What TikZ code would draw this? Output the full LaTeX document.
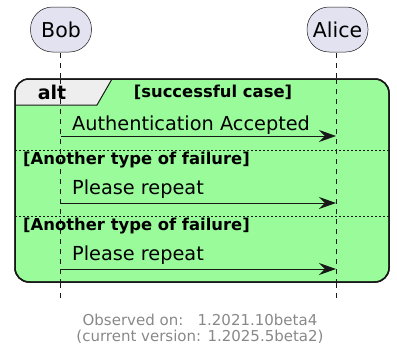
\documentclass[tikz,border=0pt]{standalone}
\usepackage{fontspec}
\setmainfont{DejaVu Sans}
\usetikzlibrary{arrows.meta}
\definecolor{partfill}{HTML}{E2E2F0}
\definecolor{ln}{HTML}{181818}
\definecolor{altgreen}{HTML}{99FB99}
\definecolor{tabfill}{HTML}{EEEEEE}
\definecolor{foot}{HTML}{888888}
\tikzset{
  part/.style={draw=ln, fill=partfill, line width=0.5pt, rounded corners=22pt, minimum width=61pt, minimum height=45pt, inner sep=0pt, font=\fontsize{20.5}{24}\selectfont},
  lifeline/.style={draw=ln, line width=0.5pt, dash pattern=on 5pt off 5pt},
  msg/.style={draw=ln, line width=1pt, -{Stealth[length=17pt,width=12pt,inset=6pt]}},
  msgtext/.style={font=\fontsize{19.3}{22}\selectfont, anchor=base west, inner sep=0pt},
  guard/.style={font=\bfseries\fontsize{16.4}{18}\selectfont, anchor=base west, inner sep=0pt},
  sep/.style={draw=ln, line width=0.8pt, dash pattern=on 2pt off 2pt},
  foottext/.style={font=\fontsize{15}{18}\selectfont, text=foot, inner sep=0pt}
}
\begin{document}
\begin{tikzpicture}[x=1pt,y=-1pt]
\useasboundingbox (0,0) rectangle (397,356);
% lifelines
\coordinate (bt) at (60.5,53);
\coordinate (bb) at (60.5,300);
\coordinate (at) at (336.5,53);
\coordinate (ab) at (336.5,300);
\draw[lifeline] (bt) -- (bb);
\draw[lifeline] (at) -- (ab);
% frame
\draw[ln, fill=altgreen, line width=1.5pt, rounded corners=14pt] (15,79) rectangle (389,282);
\begin{scope}
\clip[rounded corners=14pt] (15,79) rectangle (389,282);
\fill[tabfill] (15,79) -- (112,79) -- (97,105) -- (15,105) -- cycle;
\end{scope}
\draw[ln, line width=1pt] (112,79) -- (97,105) -- (15,105);
\draw[ln, line width=1.5pt, rounded corners=14pt] (15,282) -- (15,79) -- (389,79) -- (389,282) -- cycle;
\draw[lifeline] (60.5,79) -- (60.5,282);
\draw[lifeline] (336.5,79) -- (336.5,282);
\node[font=\bfseries\fontsize{19}{22}\selectfont, inner sep=0pt] (alt) at (52,92.5) {alt};
\node[font=\bfseries\fontsize{16.4}{18}\selectfont, inner sep=0pt] (g1) at (213,92.5) {[successful case]};
% participants
\node[part] (bob) at (61,29.5) {Bob};
\node[part] (alice) at (337.5,29.5) {Alice};
% messages
\coordinate (m1s) at (60.5,136);
\coordinate (m1e) at (336,136);
\draw[msg] (m1s) -- (m1e);
\node[msgtext] (t1) at (72,130) {Authentication Accepted};
\coordinate (s1a) at (15,150);
\coordinate (s1b) at (389,150);
\draw[sep] (s1a) -- (s1b);
\node[guard] (g2) at (23,164) {[Another type of failure]};
\coordinate (m2s) at (60.5,203);
\coordinate (m2e) at (336,203);
\draw[msg] (m2s) -- (m2e);
\node[msgtext] (t2) at (72,194) {Please repeat};
\coordinate (s2a) at (15,216);
\coordinate (s2b) at (389,216);
\draw[sep] (s2a) -- (s2b);
\node[guard] (g3) at (23,230) {[Another type of failure]};
\coordinate (m3s) at (60.5,269);
\coordinate (m3e) at (336,269);
\draw[msg] (m3s) -- (m3e);
\node[msgtext] (t3) at (72,260) {Please repeat};
% footer
\node[foottext] (f1) at (200,319.5) {Observed on:\ \ \ 1.2021.10beta4};
\node[foottext] (f2) at (200,337) {(current version: 1.2025.5beta2)};
\end{tikzpicture}
\end{document}
